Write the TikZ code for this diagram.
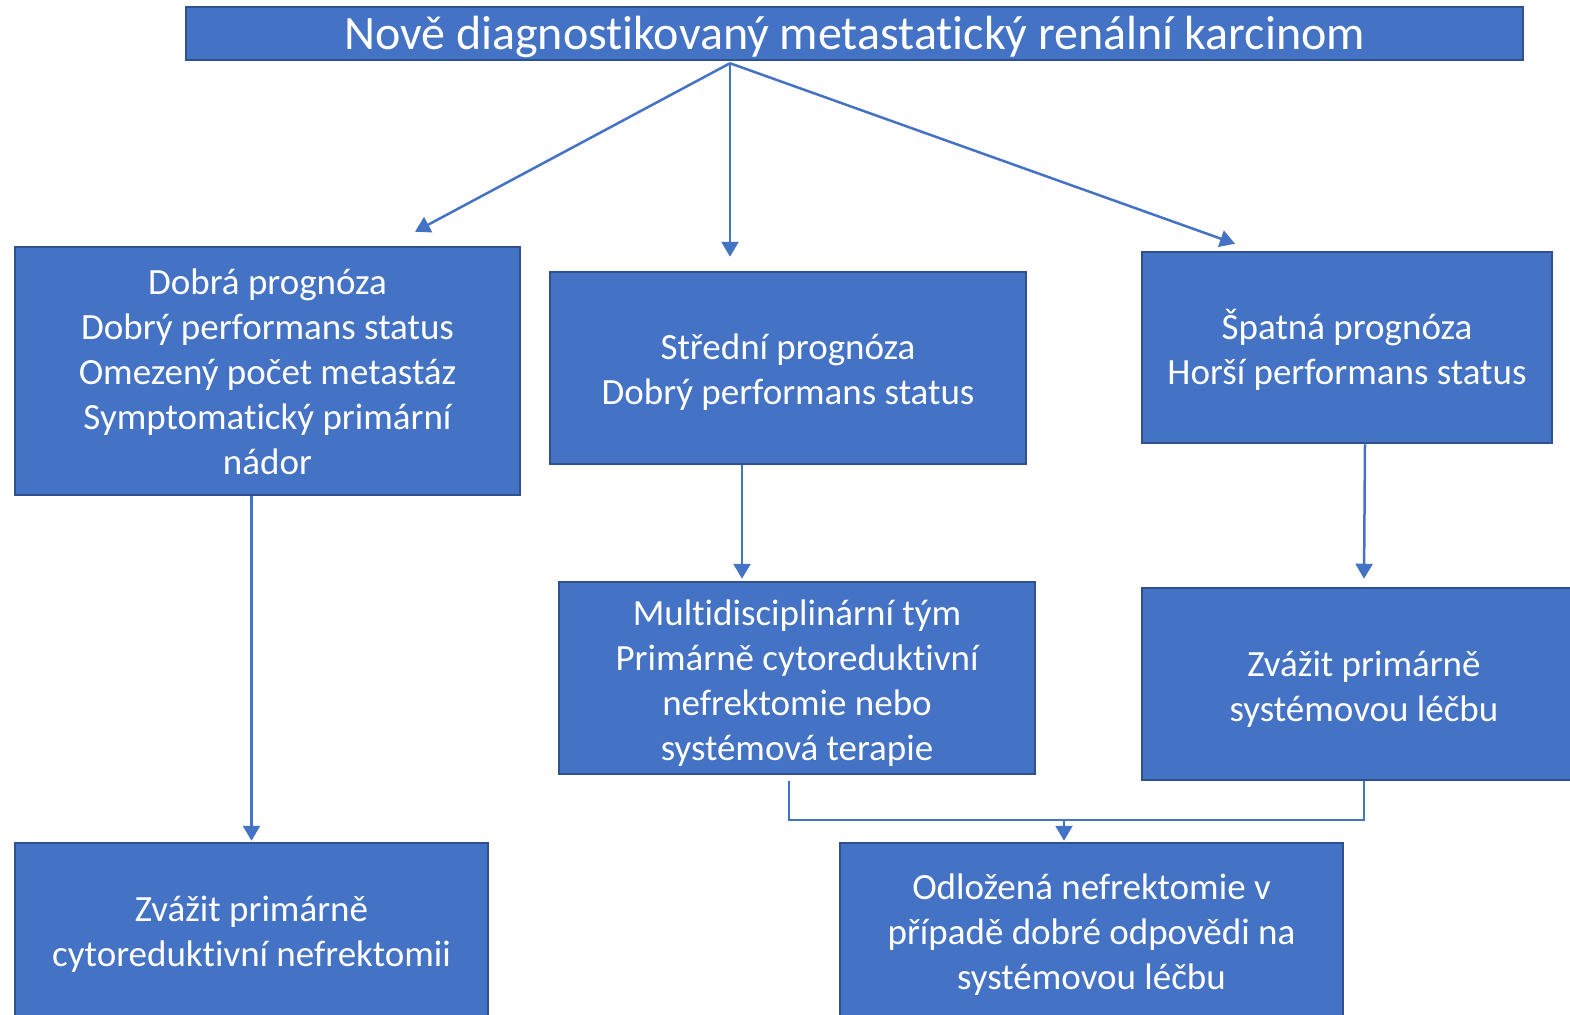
\documentclass[tikz,border=0pt]{standalone}
\usepackage{fontspec}
\setmainfont{Carlito}[Ligatures=NoCommon]
\usetikzlibrary{arrows.meta}
\definecolor{boxfill}{HTML}{4472C4}
\definecolor{boxline}{HTML}{2F528F}
% centred lines of text, set a little lower than the node centre
\newcommand\lowlines[2]{\raisebox{-#1}[\height][\depth]{\begin{tabular}{@{}c@{}}#2\end{tabular}}}

\begin{document}
\begin{tikzpicture}[x=1pt,y=-1pt,
  box/.style={draw=boxline, line width=2.5pt, fill=boxfill, text=white,
    inner sep=0pt, font=\fontsize{37}{45}\selectfont},
  link/.style={draw=boxfill, line width=2.5pt, -{Triangle[width=17pt,length=15pt]}},
  bracket/.style={draw=boxfill, line width=1.5pt}]
\useasboundingbox (0,0) rectangle (1570,1014);
\clip (0,0) rectangle (1570,1014);

% title bar
\node[box, minimum width=1337pt, minimum height=53pt,
  font=\fontsize{48}{50}\selectfont] (title) at (854.5,33.5)
  {\lowlines{6pt}{Nově diagnostikovaný metastatický renální karcinom}};

% prognosis groups
\node[box, minimum width=505pt, minimum height=248pt] (good) at (267.5,371)
  {\lowlines{4pt}{Dobrá prognóza\\Dobrý performans status\\Omezený počet metastáz\\Symptomatický primární\\nádor}};
\node[box, minimum width=476pt, minimum height=192pt] (mid) at (788,368)
  {\lowlines{5pt}{Střední prognóza\\Dobrý performans status}};
\node[box, minimum width=410pt, minimum height=191pt] (poor) at (1347,347.5)
  {\lowlines{5pt}{Špatná prognóza\\Horší performans status}};

% recommendations
\node[box, minimum width=476pt, minimum height=192pt] (team) at (797,678)
  {\lowlines{6pt}{Multidisciplinární tým\\Primárně cytoreduktivní\\nefrektomie nebo\\systémová terapie}};
\node[box, minimum width=444pt, minimum height=192pt] (sys) at (1364,684)
  {\lowlines{6pt}{Zvážit primárně\\systémovou léčbu}};
\node[box, minimum width=473pt, minimum height=174pt] (cn) at (251.5,930)
  {\lowlines{5pt}{Zvážit primárně\\cytoreduktivní nefrektomii}};
\node[box, minimum width=503pt, minimum height=176pt] (late) at (1091.5,931)
  {\lowlines{4pt}{Odložená nefrektomie v\\případě dobré odpovědi na\\systémovou léčbu}};

% branches from the title
\coordinate (split) at ([xshift=-124.5pt,yshift=-2pt]title.south);
\draw[link] (split) -- ([xshift=147.5pt,yshift=14pt]good.north);
\draw[link] (split) -- ([xshift=-58pt,yshift=14pt]mid.north);
\draw[link] (split) -- ([xshift=-112pt,yshift=7pt]poor.north);

% downward links
\draw[link] (cn.north |- good.south) -- ([yshift=1pt]cn.north);
\draw[link] ([xshift=-46pt]mid.south) -- ([xshift=-55pt,yshift=2pt]team.north);
\draw[link] ([xshift=18pt]poor.south) -- ([yshift=8pt]sys.north);

% joining bracket into the deferred nephrectomy box
\coordinate (dOut) at ([xshift=-8pt,yshift=-6pt]team.south);
\coordinate (merge) at (1064,820);
\draw[bracket] (dOut) |- (merge) -| (sys.south);
\draw[link] (merge) -- ([xshift=-27.5pt,yshift=1pt]late.north);
\end{tikzpicture}
\end{document}
